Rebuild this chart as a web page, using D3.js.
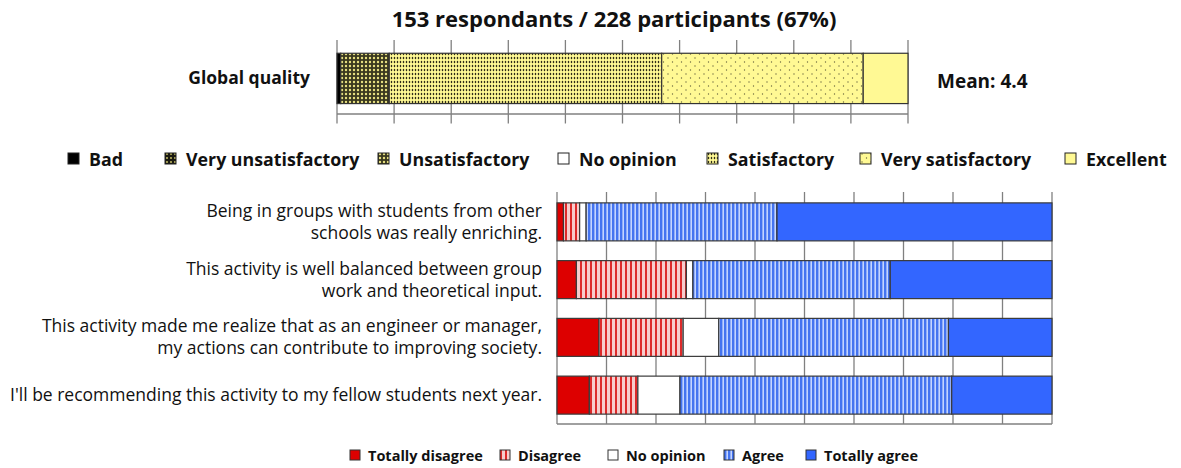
<!DOCTYPE html>
<html>
<head>
<meta charset="utf-8">
<script src="https://cdn.jsdelivr.net/npm/d3@7"></script>
<style>
  html, body { margin: 0; padding: 0; background: #fff; }
  svg { display: block; font-family: "Open Sans", "Noto Sans", sans-serif; }
</style>
</head>
<body>
<svg id="chart" width="1181" height="468"></svg>
<script>
// ---------- DATA ----------
const titleText = "153 respondants / 228 participants (67%)";
const qualityCategory = ["Global quality"];
const qualityLevels = ["Bad", "Very unsatisfactory", "Unsatisfactory", "No opinion", "Satisfactory", "Very satisfactory", "Excellent"];
const qualityCounts = [1, 0, 13, 0, 73, 54, 12];
const meanText = "Mean: 4.4";

const statements = [
  ["Being in groups with students from other", "schools was really enriching."],
  ["This activity is well balanced between group", "work and theoretical input."],
  ["This activity made me realize that as an engineer or manager,", "my actions can contribute to improving society."],
  ["I'll be recommending this activity to my fellow students next year."]
];
const agreementLevels = ["Totally disagree", "Disagree", "No opinion", "Agree", "Totally agree"];
const agreementCounts = [
  [2, 5, 2, 59, 85],
  [6, 34, 2, 61, 50],
  [13, 26, 11, 71, 32],
  [10, 15, 13, 84, 31]
];
const percentTicks = [0, 10, 20, 30, 40, 50, 60, 70, 80, 90, 100];

// ---------- STYLE ----------
const svg = d3.select("#chart");
const defs = svg.append("defs");
const YEL = "#fff994";
const GRID = "#808080";
const EDGE = "#3a3a3a";

function pattern(id, w, h, build) {
  const p = defs.append("pattern").attr("id", id).attr("patternUnits", "userSpaceOnUse")
    .attr("width", w).attr("height", h);
  build(p);
}
pattern("p-vunsat", 4, 4, p => {
  p.append("rect").attr("width", 4).attr("height", 4).attr("fill", "#1a1a10");
  p.append("circle").attr("cx", 2).attr("cy", 2).attr("r", 0.9).attr("fill", "#d8d070");
});
pattern("p-unsat", 4, 4, p => {
  p.append("rect").attr("width", 4).attr("height", 4).attr("fill", "#3a381e");
  p.append("circle").attr("cx", 2).attr("cy", 2).attr("r", 1.2).attr("fill", "#e6df80");
});
pattern("p-sat", 3, 4, p => {
  p.append("rect").attr("width", 3).attr("height", 4).attr("fill", YEL);
  p.append("ellipse").attr("cx", 1.5).attr("cy", 2).attr("rx", 0.75).attr("ry", 1.3).attr("fill", "#2e2c18");
});
pattern("p-vsat", 9, 8, p => {
  p.append("rect").attr("width", 9).attr("height", 8).attr("fill", YEL);
  p.append("circle").attr("cx", 2).attr("cy", 2).attr("r", 0.7).attr("fill", "#6b6840");
  p.append("circle").attr("cx", 6.5).attr("cy", 6).attr("r", 0.7).attr("fill", "#6b6840");
});
pattern("p-dis", 5, 4, p => {
  p.append("rect").attr("width", 5).attr("height", 4).attr("fill", "#f7cccc");
  p.append("rect").attr("width", 2).attr("height", 4).attr("fill", "#dd2a2a");
});
pattern("p-agree", 4, 4, p => {
  p.append("rect").attr("width", 4).attr("height", 4).attr("fill", "#c4d5ff");
  p.append("rect").attr("width", 2.4).attr("height", 4).attr("fill", "#4474f0");
});

const qualityFill = ["#000000", "url(#p-vunsat)", "url(#p-unsat)", "#ffffff", "url(#p-sat)", "url(#p-vsat)", YEL];
const agreeFill = ["#dd0000", "url(#p-dis)", "#ffffff", "url(#p-agree)", "#3366ff"];

function stack(counts) {
  const total = d3.sum(counts);
  let acc = 0;
  return counts.map((c, i) => {
    const d = { i, x0: acc / total * 100, x1: (acc + c) / total * 100 };
    acc += c;
    return d;
  });
}

// ---------- TITLE ----------
svg.append("text").attr("x", 614).attr("y", 27).attr("text-anchor", "middle")
  .attr("font-size", 22).attr("font-weight", 700).attr("fill", "#111").text(titleText);

// ---------- TOP CHART ----------
const xTop = d3.scaleLinear().domain([0, 100]).range([337, 908]);
const yTop = d3.scaleBand().domain(qualityCategory).range([40, 114]).paddingInner(0.32).paddingOuter(0.16).align(0.56);
const gTop = svg.append("g");
gTop.selectAll("line.grid").data(percentTicks).join("line")
  .attr("x1", d => xTop(d)).attr("x2", d => xTop(d))
  .attr("y1", 40).attr("y2", 123.5).attr("stroke", GRID).attr("stroke-width", 1.3);
gTop.append("line").attr("x1", xTop(0)).attr("x2", xTop(100)).attr("y1", 114).attr("y2", 114)
  .attr("stroke", GRID).attr("stroke-width", 1.3);
gTop.selectAll("rect.seg").data(stack(qualityCounts).filter(d => d.x1 > d.x0)).join("rect")
  .attr("x", d => xTop(d.x0)).attr("width", d => xTop(d.x1) - xTop(d.x0))
  .attr("y", yTop("Global quality")).attr("height", yTop.bandwidth())
  .attr("fill", d => qualityFill[d.i]).attr("stroke", "#333").attr("stroke-width", 1.2);
svg.append("text").attr("x", 310).attr("y", yTop("Global quality") + yTop.bandwidth() / 2 + 6)
  .attr("text-anchor", "end").attr("font-size", 17.5).attr("font-weight", 700).attr("fill", "#111").text(qualityCategory[0]);
svg.append("text").attr("x", 937).attr("y", 88)
  .attr("font-size", 19).attr("font-weight", 700).attr("fill", "#111").text(meanText);

// top legend
const topLegendX = [68, 165, 378, 558, 707, 860, 1065];
const lgTop = svg.append("g");
qualityLevels.forEach((lab, i) => {
  const g = lgTop.append("g").attr("transform", `translate(${topLegendX[i]},160)`);
  g.append("rect").attr("x", 0).attr("y", -7).attr("width", 11).attr("height", 11)
    .attr("fill", qualityFill[i]).attr("stroke", "#222").attr("stroke-width", 1);
  g.append("text").attr("x", 21).attr("y", 6).attr("font-size", 17.8).attr("font-weight", 700)
    .attr("fill", "#111").text(lab);
});

// ---------- BOTTOM CHART ----------
const xBot = d3.scaleLinear().domain([0, 100]).range([557, 1052]);
const yBot = d3.scaleBand().domain(d3.range(statements.length)).range([193, 424]).paddingInner(0.342).paddingOuter(0.171);
const gBot = svg.append("g");
gBot.selectAll("line.grid").data(percentTicks).join("line")
  .attr("x1", d => xBot(d)).attr("x2", d => xBot(d))
  .attr("y1", 192).attr("y2", 424).attr("stroke", GRID).attr("stroke-width", 1.3);
gBot.append("line").attr("x1", xBot(0)).attr("x2", xBot(100)).attr("y1", 424).attr("y2", 424)
  .attr("stroke", GRID).attr("stroke-width", 1.3);
agreementCounts.forEach((counts, r) => {
  gBot.append("g").selectAll("rect").data(stack(counts).filter(d => d.x1 > d.x0)).join("rect")
    .attr("x", d => xBot(d.x0)).attr("width", d => xBot(d.x1) - xBot(d.x0))
    .attr("y", yBot(r)).attr("height", yBot.bandwidth())
    .attr("fill", d => agreeFill[d.i]).attr("stroke", EDGE).attr("stroke-width", 1.2);
  const lines = statements[r];
  const cy = yBot(r) + yBot.bandwidth() / 2;
  const t = svg.append("text").attr("text-anchor", "end").attr("font-size", 17.5).attr("fill", "#111");
  lines.forEach((ln, k) => {
    t.append("tspan").attr("x", 542)
      .attr("y", cy + 6 + (k - (lines.length - 1) / 2) * 22).text(ln);
  });
});

// bottom legend
const botLegendX = [350, 500, 608, 724, 806];
const lgBot = svg.append("g");
agreementLevels.forEach((lab, i) => {
  const g = lgBot.append("g").attr("transform", `translate(${botLegendX[i]},456)`);
  g.append("rect").attr("x", 0).attr("y", -6).attr("width", 10).attr("height", 10)
    .attr("fill", agreeFill[i]).attr("stroke", "#333").attr("stroke-width", 1);
  g.append("text").attr("x", 18).attr("y", 5).attr("font-size", 14.5).attr("font-weight", 700)
    .attr("fill", "#111").text(lab);
});
</script>
</body>
</html>
